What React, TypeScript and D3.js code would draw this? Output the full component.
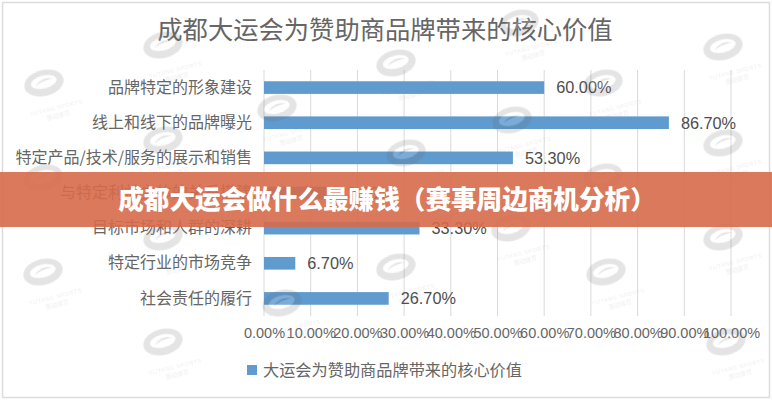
import * as d3 from "d3";
import React, { useEffect, useRef } from "react";

const categories = [
    "品牌特定的形象建设",
    "线上和线下的品牌曝光",
    "特定产品/技术/服务的展示和销售",
    "与特定利益主体的关系搭建",
    "目标市场和人群的深耕",
    "特定行业的市场竞争",
    "社会责任的履行",
];
const values = [60.0, 86.7, 53.3, 13.3, 33.3, 6.7, 26.7];
const xTicks = [0, 10, 20, 30, 40, 50, 60, 70, 80, 90, 100];
const chartTitle = "成都大运会为赞助商品牌带来的核心价值";
const legendLabel = "大运会为赞助商品牌带来的核心价值";
const bannerText = "成都大运会做什么最赚钱（赛事周边商机分析）";
const watermarks: [number, number][] = [
    [163, 45], [44, 83], [277, 108], [163, 140], [43, 178],
    [396, 63], [519, 23], [603, 83], [512, 120], [723, 47],
    [723, 143], [406, 153], [603, 177], [163, 237], [511, 228],
    [723, 237], [43, 272], [396, 267], [606, 272], [282, 303],
    [163, 342], [726, 342],
];

const WIDTH = 772;
const HEIGHT = 400;
const CJK = "'Noto Sans CJK SC', sans-serif";
const LATIN = "'Liberation Sans', Arial, sans-serif";
const TEXT_COLOR = "#666";
const BAR_COLOR = "#5f9bcf";

const App: React.FC = () => {
    const svgRef = useRef<SVGSVGElement>(null);

    useEffect(() => {
        if (!svgRef.current) return;
        const svg = d3.select(svgRef.current);
        svg.selectAll("*").remove();

        const xScale = d3.scaleLinear().domain([0, 100]).range([264, 731]);
        const yScale = d3
            .scaleBand<string>()
            .domain(categories)
            .range([70, 316])
            .paddingInner(0.64)
            .paddingOuter(0.32);

        svg.append("defs")
            .append("filter")
            .attr("id", "soft")
            .append("feGaussianBlur")
            .attr("stdDeviation", 0.7);

        svg.append("rect")
            .attr("x", 2.5)
            .attr("y", 2.5)
            .attr("width", WIDTH - 5)
            .attr("height", HEIGHT - 5)
            .attr("fill", "#fff")
            .attr("stroke", "#dcdcdc")
            .attr("stroke-width", 1.5);

        svg.append("text")
            .attr("x", 385)
            .attr("y", 39)
            .attr("text-anchor", "middle")
            .attr("font-family", CJK)
            .attr("font-size", 25.3)
            .attr("fill", TEXT_COLOR)
            .text(chartTitle);

        // grid lines
        svg.append("g")
            .selectAll("line")
            .data(xTicks)
            .join("line")
            .attr("x1", (d) => xScale(d))
            .attr("x2", (d) => xScale(d))
            .attr("y1", 70)
            .attr("y2", 316)
            .attr("stroke", "#d9d9d9")
            .attr("stroke-width", 1);

        const xAxis = svg
            .append("g")
            .attr("transform", "translate(0,316)")
            .call(
                d3
                    .axisBottom(xScale)
                    .tickValues(xTicks)
                    .tickSize(0)
                    .tickPadding(12)
                    .tickFormat((d) => `${Number(d).toFixed(2)}%`)
            );
        xAxis.select(".domain").remove();
        xAxis
            .selectAll("text")
            .attr("font-family", LATIN)
            .attr("font-size", 14.5)
            .attr("fill", TEXT_COLOR);

        const yAxis = svg
            .append("g")
            .attr("transform", "translate(264,0)")
            .call(d3.axisLeft(yScale).tickSize(0).tickPadding(12));
        yAxis.select(".domain").remove();
        yAxis
            .selectAll("text")
            .attr("font-family", CJK)
            .attr("font-size", 16)
            .attr("fill", TEXT_COLOR);

        svg.append("g")
            .selectAll("rect")
            .data(values)
            .join("rect")
            .attr("x", xScale(0))
            .attr("y", (_, i) => yScale(categories[i]) as number)
            .attr("width", (d) => xScale(d) - xScale(0))
            .attr("height", yScale.bandwidth())
            .attr("fill", BAR_COLOR);

        svg.append("g")
            .selectAll("text")
            .data(values)
            .join("text")
            .attr("x", (d) => xScale(d) + 12)
            .attr("y", (_, i) => (yScale(categories[i]) as number) + yScale.bandwidth() / 2)
            .attr("dy", "0.36em")
            .attr("font-family", LATIN)
            .attr("font-size", 16.3)
            .attr("fill", "#4d4d4d")
            .text((d) => `${d.toFixed(2)}%`);

        // legend
        svg.append("rect")
            .attr("x", 247)
            .attr("y", 365)
            .attr("width", 10)
            .attr("height", 10)
            .attr("fill", BAR_COLOR);
        svg.append("text")
            .attr("x", 263)
            .attr("y", 376)
            .attr("font-family", CJK)
            .attr("font-size", 16.2)
            .attr("fill", TEXT_COLOR)
            .text(legendLabel);

        // watermark logos
        const marks = svg
            .append("g")
            .selectAll("g")
            .data(watermarks)
            .join("g")
            .attr("transform", (d) => `translate(${d[0]},${d[1]}) rotate(-14)`)
            .attr("filter", "url(#soft)")
            .attr("opacity", 0.17);
        marks.append("ellipse")
            .attr("rx", 20)
            .attr("ry", 13)
            .attr("fill", "#666");
        marks.append("ellipse")
            .attr("rx", 13)
            .attr("ry", 6.5)
            .attr("cy", -1)
            .attr("fill", "#fff");
        marks.append("path")
            .attr("d", "M-9,1 Q0,-7 10,-2 Q0,-3 -9,1 Z")
            .attr("fill", "#666");
        marks.append("text")
            .attr("x", 6)
            .attr("y", 29)
            .attr("text-anchor", "middle")
            .attr("font-family", LATIN)
            .attr("font-size", 5.5)
            .attr("letter-spacing", 0.6)
            .attr("fill", "#999")
            .text("YUTANG SPORTS");
        marks.append("text")
            .attr("x", 6)
            .attr("y", 37)
            .attr("text-anchor", "middle")
            .attr("font-family", CJK)
            .attr("font-size", 6)
            .attr("fill", "#999")
            .text("惠动体育");

        // banner across the middle
        svg.append("rect")
            .attr("x", 0)
            .attr("y", 172)
            .attr("width", WIDTH)
            .attr("height", 55)
            .attr("fill", "#d66a4a")
            .attr("opacity", 0.9);
        svg.append("text")
            .attr("x", 387)
            .attr("y", 209)
            .attr("text-anchor", "middle")
            .attr("font-family", CJK)
            .attr("font-weight", 900)
            .attr("font-size", 25.6)
            .attr("fill", "#fff")
            .text(bannerText);
    }, []);

    return (
        <svg
            ref={svgRef}
            width={WIDTH}
            height={HEIGHT}
            style={{ position: "fixed", left: 0, top: 0, background: "#fff" }}
        />
    );
};

export default App;
